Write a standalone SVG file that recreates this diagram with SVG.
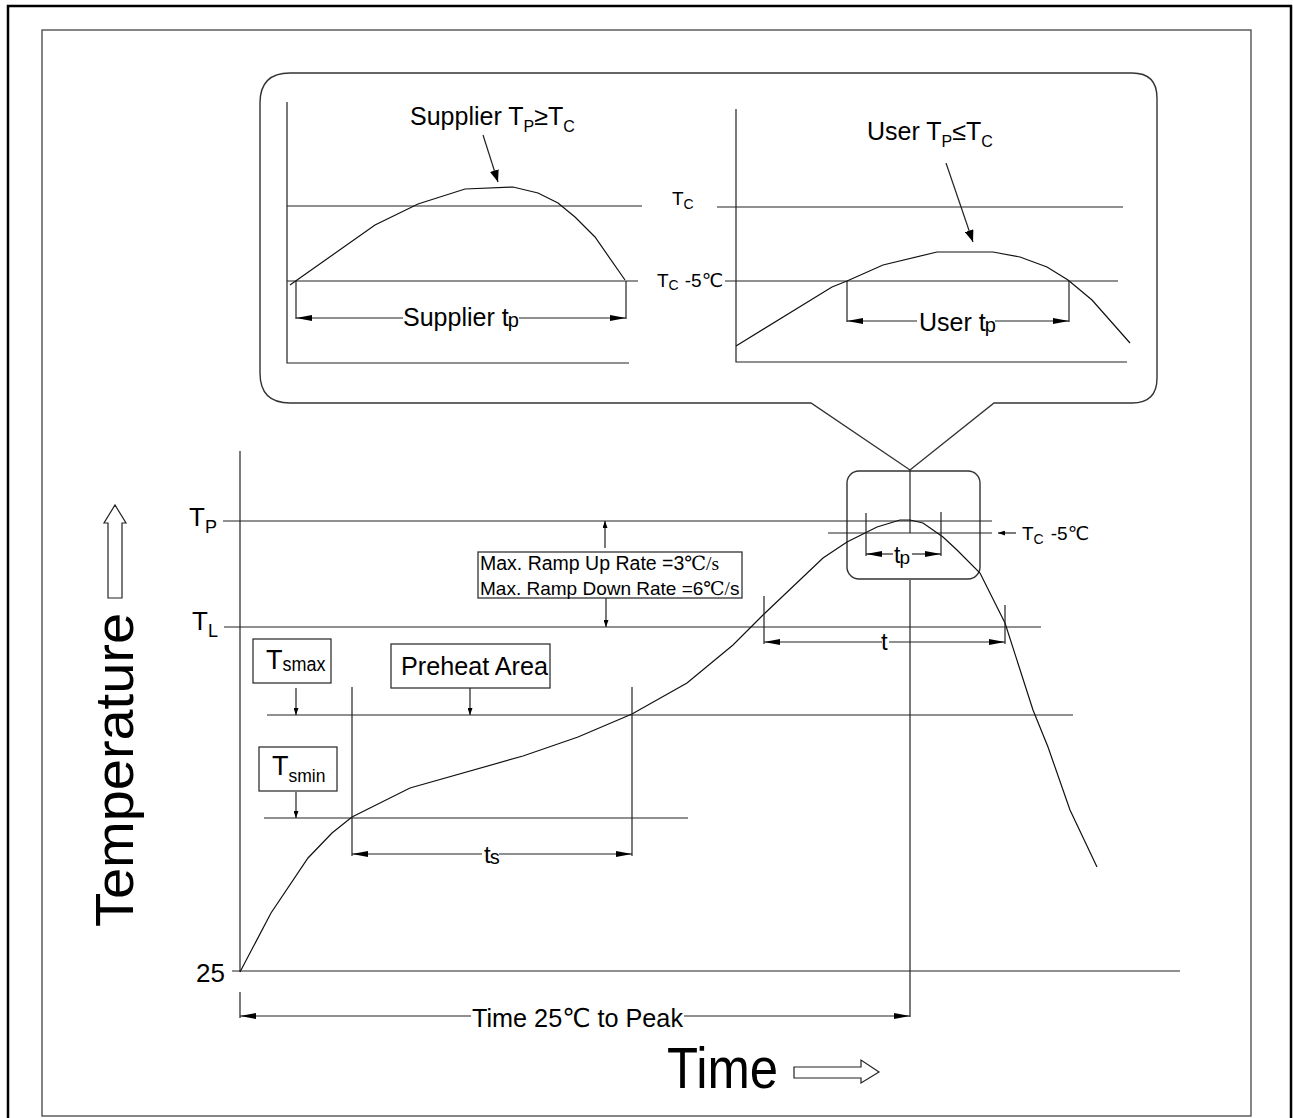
<svg xmlns="http://www.w3.org/2000/svg" width="1293" height="1118" viewBox="0 0 1293 1118">
<style>
text{font-family:"Liberation Sans",Arial,"DejaVu Sans","Noto Sans CJK SC",sans-serif;fill:#000}
.ln{stroke:#222;stroke-width:1.2;fill:none}
.cv{stroke:#111;stroke-width:1.2;fill:none}
.bx{stroke:#333;stroke-width:1.4;fill:#fff}
.serif{font-family:"Liberation Serif","DejaVu Serif","Noto Sans CJK SC",serif}
</style>
<defs>
<marker id="a" viewBox="0 0 16 6" refX="16" refY="3" markerWidth="16" markerHeight="6" markerUnits="userSpaceOnUse" orient="auto-start-reverse"><path d="M0,0 L16,3 L0,6 z" fill="#000"/></marker>
<marker id="s" viewBox="0 0 7 5" refX="7" refY="2.5" markerWidth="7" markerHeight="5" markerUnits="userSpaceOnUse" orient="auto"><path d="M0,0 L7,2.5 L0,5 z" fill="#000"/></marker>
<marker id="m" viewBox="0 0 12 9" refX="12" refY="4.5" markerWidth="12" markerHeight="9" markerUnits="userSpaceOnUse" orient="auto"><path d="M0,0 L12,4.5 L0,9 z" fill="#000"/></marker>
</defs>

<g id="frame">
<rect x="8" y="6" width="1283" height="1116" fill="none" stroke="#000" stroke-width="2.5"/>
<rect x="42" y="30" width="1209" height="1086" fill="none" stroke="#444" stroke-width="1.3"/>
</g>

<g id="callout">
<path class="bx" d="M290,73 L1132,73 Q1157,73 1157,98 L1157,378 Q1157,403 1132,403 L994,403 L910,470 L811,403 L290,403 Q260,403 260,373 L260,103 Q260,73 290,73 Z"/>
</g>

<g id="supplier-inset">
<polyline class="ln" points="287,102 287,363 629,363"/>
<line class="ln" x1="287" y1="206" x2="642" y2="206"/>
<line class="ln" x1="287" y1="281" x2="638" y2="281"/>
<polyline class="cv" points="290,285 375,225 418,204 465,189 513,187 538,193 558,203 575,217 595,237 625,280"/>
<line class="ln" x1="296" y1="281" x2="296" y2="319"/>
<line class="ln" x1="626" y1="281" x2="626" y2="319"/>
<text x="410" y="125" font-size="25">Supplier T<tspan font-size="16" dy="7">P</tspan><tspan dy="-7">≥T</tspan><tspan font-size="16" dy="7">C</tspan></text>
<text x="403" y="326" font-size="25">Supplier t<tspan font-size="20" dx="-1" dy="1">p</tspan></text>
<text x="672" y="205" font-size="19">T<tspan font-size="14" dy="4">C</tspan></text>
<text x="657" y="287" font-size="19">T<tspan font-size="14" dy="3">C</tspan><tspan dx="6" dy="-3">-5℃</tspan></text>
</g>

<g id="user-inset">
<polyline class="ln" points="736,109 736,362 1127,362"/>
<line class="ln" x1="717" y1="207" x2="1123" y2="207"/>
<line class="ln" x1="725" y1="281" x2="1118" y2="281"/>
<polyline class="cv" points="736,346 832,287 847,281 883,265 937,252 993,252 1020,257 1047,267 1068,280 1092,300 1130,343"/>
<line class="ln" x1="847" y1="281" x2="847" y2="322"/>
<line class="ln" x1="1069" y1="281" x2="1069" y2="322"/>
<text x="867" y="140" font-size="25">User T<tspan font-size="16" dy="7">P</tspan><tspan dy="-7">≤T</tspan><tspan font-size="16" dy="7">C</tspan></text>
<text x="919" y="331" font-size="25">User t<tspan font-size="20" dx="-1" dy="1">p</tspan></text>
</g>

<g id="peak-box">
<rect x="847" y="471" width="133" height="108" rx="12" fill="none" stroke="#333" stroke-width="1.4"/>
<text x="1022" y="540" font-size="19">T<tspan font-size="14" dy="4">C</tspan><tspan dx="7" dy="-4">-5℃</tspan></text>
<text x="894" y="563" font-size="23">t<tspan font-size="19" dx="-1" dy="1">p</tspan></text>
</g>

<g id="axes-labels">
<text x="189" y="526" font-size="26">T<tspan font-size="18" dy="7">P</tspan></text>
<text x="192" y="630" font-size="26">T<tspan font-size="18" dy="7">L</tspan></text>
<text x="196" y="982" font-size="26">25</text>
<text transform="translate(133,927) rotate(-90)" font-size="54" textLength="314" lengthAdjust="spacingAndGlyphs">Temperature</text>
<polygon points="108,598 108,523 104,523 115,505 126,523 122,523 122,598" fill="#fff" stroke="#222" stroke-width="1.2"/>
<text x="667" y="1088" font-size="57" textLength="111" lengthAdjust="spacingAndGlyphs">Time</text>
<polygon points="794,1067 861,1067 861,1060 879,1072 861,1083 861,1078 794,1078" fill="#fff" stroke="#222" stroke-width="1.2"/>
</g>

<g id="ramp-box">
<rect x="478" y="552" width="264" height="46" fill="#fff" stroke="#333" stroke-width="1.3"/>
<text x="480" y="570" font-size="19.5">Max. Ramp Up Rate =3<tspan class="serif">℃/s</tspan></text>
<text x="480" y="595" font-size="19">Max. Ramp Down Rate =6<tspan class="serif">℃/</tspan>s</text>
</g>

<g id="tsmax">
<rect x="253" y="639" width="78" height="44" fill="#fff" stroke="#333" stroke-width="1.3"/>
<text x="266" y="669" font-size="27">T<tspan font-size="20" dy="2" textLength="43" lengthAdjust="spacingAndGlyphs">smax</tspan></text>
</g>
<g id="tsmin">
<rect x="259" y="747" width="78" height="44" fill="#fff" stroke="#333" stroke-width="1.3"/>
<text x="272" y="775" font-size="27">T<tspan font-size="19" dy="7" textLength="37" lengthAdjust="spacingAndGlyphs">smin</tspan></text>
</g>
<g id="preheat">
<rect x="391" y="644" width="159" height="44" fill="#fff" stroke="#333" stroke-width="1.3"/>
<text x="401" y="675" font-size="26" textLength="147" lengthAdjust="spacingAndGlyphs">Preheat Area</text>
</g>

<g id="connectors">
<line class="ln" x1="483" y1="135" x2="498" y2="182" marker-end="url(#m)"/>
<line class="ln" x1="946" y1="163" x2="973" y2="242" marker-end="url(#m)"/>
<line class="ln" x1="403" y1="318" x2="296" y2="318" marker-end="url(#a)"/>
<line class="ln" x1="519" y1="318" x2="626" y2="318" marker-end="url(#a)"/>
<line class="ln" x1="917" y1="321" x2="847" y2="321" marker-end="url(#a)"/>
<line class="ln" x1="995" y1="321" x2="1069" y2="321" marker-end="url(#a)"/>
<line class="ln" x1="240" y1="451" x2="240" y2="972"/>
<line class="ln" x1="223" y1="521" x2="992" y2="521"/>
<line class="ln" x1="224" y1="627" x2="1041" y2="627"/>
<line class="ln" x1="267" y1="715" x2="1073" y2="715"/>
<line class="ln" x1="264" y1="818" x2="688" y2="818"/>
<line class="ln" x1="232" y1="971" x2="1180" y2="971"/>
<line class="ln" x1="828" y1="533" x2="992" y2="533"/>
<line class="ln" x1="910" y1="470" x2="910" y2="533"/>
<line class="ln" x1="910" y1="580" x2="910" y2="1017"/>
<polyline class="cv" points="240,972 271,913 308,858 332,833 352,817 410,788 523,756 578,737 632,714 687,683 733,645 763,615 823,558 847,542 877,527 900,520 910,520 923,523 943,537 957,550 980,573 1005,623 1033,710 1048,747 1070,810 1097,867"/>
<line class="ln" x1="605" y1="548" x2="605" y2="521" marker-end="url(#s)"/>
<line class="ln" x1="606" y1="598" x2="606" y2="627" marker-end="url(#s)"/>
<line class="ln" x1="296" y1="688" x2="296" y2="715" marker-end="url(#s)"/>
<line class="ln" x1="470" y1="688" x2="470" y2="715" marker-end="url(#s)"/>
<line class="ln" x1="296" y1="792" x2="296" y2="818" marker-end="url(#s)"/>
<line class="ln" x1="1016" y1="533" x2="998" y2="533" marker-end="url(#s)"/>
<line class="ln" x1="352" y1="687" x2="352" y2="856"/>
<line class="ln" x1="632" y1="687" x2="632" y2="856"/>
<line class="ln" x1="482" y1="854" x2="352" y2="854" marker-end="url(#a)"/>
<line class="ln" x1="499" y1="854" x2="632" y2="854" marker-end="url(#a)"/>
<line class="ln" x1="764" y1="596" x2="764" y2="644"/>
<line class="ln" x1="1005" y1="605" x2="1005" y2="644"/>
<line class="ln" x1="882" y1="642" x2="764" y2="642" marker-end="url(#a)"/>
<line class="ln" x1="889" y1="642" x2="1005" y2="642" marker-end="url(#a)"/>
<line class="ln" x1="866" y1="513" x2="866" y2="556"/>
<line class="ln" x1="941" y1="512" x2="941" y2="556"/>
<line class="ln" x1="893" y1="554" x2="866" y2="554" marker-end="url(#a)"/>
<line class="ln" x1="912" y1="554" x2="941" y2="554" marker-end="url(#a)"/>
<line class="ln" x1="240" y1="992" x2="240" y2="1018"/>
<line class="ln" x1="471" y1="1016" x2="240" y2="1016" marker-end="url(#a)"/>
<line class="ln" x1="684" y1="1016" x2="910" y2="1016" marker-end="url(#a)"/>
</g>

<g id="dim-labels">
<text x="484" y="863" font-size="24">t<tspan font-size="20" dx="-1" dy="1">s</tspan></text>
<text x="881" y="650" font-size="24">t</text>
<text x="472" y="1027" font-size="26" textLength="211" lengthAdjust="spacingAndGlyphs">Time 25℃ to Peak</text>
</g>
</svg>
